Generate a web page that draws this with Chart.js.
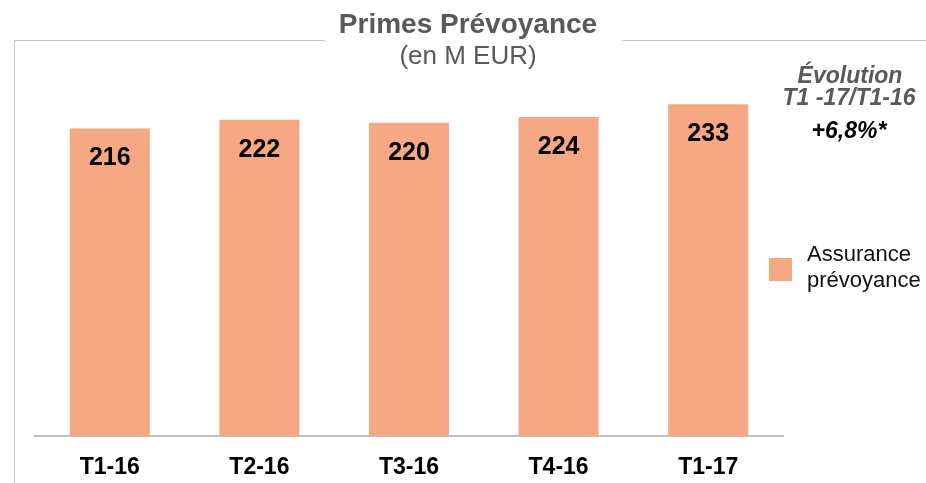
<!DOCTYPE html>
<html>
<head>
<meta charset="utf-8">
<script src="https://cdn.jsdelivr.net/npm/chart.js@4"></script>
<style>
  html, body { margin: 0; padding: 0; background: #fff; }
  #wrap { width: 926px; height: 483px; position: relative; }
</style>
</head>
<body>
<div id="wrap"><canvas id="chart" width="926" height="483"></canvas></div>
<script>
const categories = ['T1-16', 'T2-16', 'T3-16', 'T4-16', 'T1-17'];
const primes = [216, 222, 220, 224, 233];
const seriesName = ['Assurance', 'prévoyance'];
const titleText = 'Primes Prévoyance';
const subtitleText = '(en M EUR)';
const evolutionLines = ['Évolution', 'T1 -17/T1-16'];
const evolutionValue = '+6,8%*';

const BAR_COLOR = '#F5A883';
const FONT = '"Liberation Sans", Arial, sans-serif';

// titre, cadre, encart d'évolution, légende et valeurs dans les barres
const decorations = {
  id: 'decorations',
  afterDraw(chart) {
    const ctx = chart.ctx;
    ctx.save();

    // cadre fin autour du titre
    ctx.strokeStyle = '#C6C6C6';
    ctx.lineWidth = 1;
    ctx.beginPath();
    ctx.moveTo(325, 40.5);
    ctx.lineTo(14.5, 40.5);
    ctx.lineTo(14.5, 483);
    ctx.moveTo(622, 40.5);
    ctx.lineTo(926, 40.5);
    ctx.stroke();

    ctx.textAlign = 'center';
    ctx.textBaseline = 'alphabetic';
    ctx.fillStyle = '#595959';
    ctx.font = 'bold 28px ' + FONT;
    ctx.fillText(titleText, 468, 33);
    ctx.font = '26px ' + FONT;
    ctx.fillText(subtitleText, 468, 64);

    ctx.font = 'italic bold 23px ' + FONT;
    ctx.fillText(evolutionLines[0], 850, 83);
    ctx.fillText(evolutionLines[1], 849, 105);
    ctx.fillStyle = '#000';
    ctx.fillText(evolutionValue, 849, 138);

    // légende
    ctx.fillStyle = BAR_COLOR;
    ctx.fillRect(769, 258, 23, 23);
    ctx.fillStyle = '#111';
    ctx.textAlign = 'left';
    ctx.font = '22px ' + FONT;
    ctx.fillText(seriesName[0], 807, 261);
    ctx.fillText(seriesName[1], 807, 287);

    // valeurs en haut des barres
    ctx.textAlign = 'center';
    ctx.textBaseline = 'middle';
    ctx.fillStyle = '#000';
    ctx.font = 'bold 25px ' + FONT;
    const meta = chart.getDatasetMeta(0);
    meta.data.forEach((bar, i) => {
      ctx.fillText(String(primes[i]), bar.x, bar.y + 30);
    });
    ctx.restore();
  }
};

new Chart(document.getElementById('chart'), {
  type: 'bar',
  data: {
    labels: categories,
    datasets: [{
      label: seriesName.join(' '),
      data: primes,
      backgroundColor: BAR_COLOR,
      borderWidth: 0,
      categoryPercentage: 1,
      barPercentage: 0.535
    }]
  },
  options: {
    responsive: false,
    animation: false,
    layout: { padding: { left: 35, right: 143, top: 80, bottom: 0 } },
    plugins: {
      legend: { display: false },
      tooltip: { enabled: false }
    },
    scales: {
      x: {
        grid: { display: false },
        border: { display: true, color: '#C0C0C0', width: 2 },
        ticks: {
          color: '#000',
          padding: 10,
          font: { family: FONT, size: 23, weight: 'bold' }
        },
        afterFit(scale) { scale.height = 47; }
      },
      y: {
        display: false,
        min: 0,
        max: 250
      }
    }
  },
  plugins: [decorations]
});
</script>
</body>
</html>
